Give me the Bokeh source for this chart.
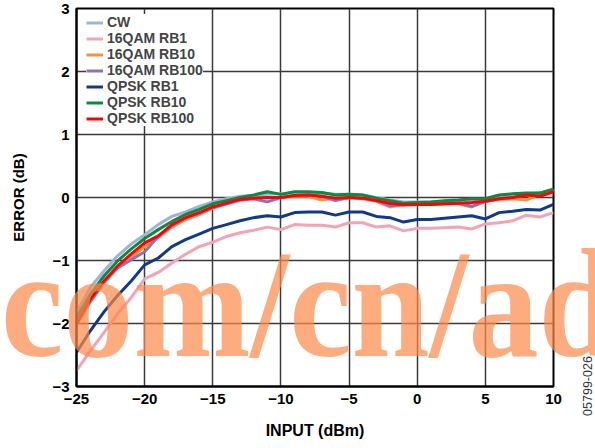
from bokeh.plotting import figure
from bokeh.layouts import column
from bokeh.models import Range1d, FixedTicker, Legend, LegendItem, Div
from bokeh.embed import file_html
from bokeh.resources import INLINE

# ---------------- data ----------------
input_dbm = list(range(-25, 11))

cw = [-1.83, -1.43, -1.17, -0.93, -0.74, -0.59, -0.43, -0.30, -0.23, -0.14,
      -0.07, -0.02, 0.02, 0.03, 0.05, 0.06, 0.08, 0.08, 0.07, 0.05,
      0.05, 0.04, 0.00, -0.04, -0.07, -0.07, -0.07, -0.06, -0.05, -0.03,
      -0.03, 0.02, 0.05, 0.06, 0.07, 0.11]

qam16_rb1 = [-2.75, -2.44, -2.15, -1.85, -1.59, -1.29, -1.19, -1.04, -0.90, -0.78,
             -0.71, -0.62, -0.56, -0.52, -0.47, -0.51, -0.43, -0.44, -0.44, -0.47,
             -0.40, -0.40, -0.47, -0.45, -0.53, -0.49, -0.49, -0.48, -0.47, -0.50,
             -0.42, -0.40, -0.37, -0.28, -0.31, -0.24]

qam16_rb10 = [-2.02, -1.66, -1.36, -1.12, -0.95, -0.78, -0.63, -0.47, -0.35, -0.27,
              -0.17, -0.10, -0.04, -0.02, 0.00, 0.00, 0.02, 0.02, -0.04, -0.01,
              0.00, -0.02, -0.06, -0.15, -0.11, -0.11, -0.11, -0.10, -0.10, -0.15,
              -0.06, -0.03, -0.02, -0.04, 0.05, 0.12]

qam16_rb100 = [-2.00, -1.65, -1.35, -1.12, -0.99, -0.86, -0.62, -0.45, -0.33, -0.25,
               -0.16, -0.10, -0.04, -0.02, -0.07, 0.00, 0.03, 0.04, 0.02, -0.05,
               0.00, -0.01, -0.05, -0.13, -0.11, -0.11, -0.10, -0.10, -0.09, -0.14,
               -0.06, -0.02, 0.00, 0.04, 0.07, 0.13]

qpsk_rb1 = [-2.46, -2.12, -1.82, -1.56, -1.33, -1.07, -0.96, -0.78, -0.67, -0.58,
            -0.49, -0.43, -0.37, -0.32, -0.29, -0.31, -0.24, -0.23, -0.23, -0.28,
            -0.23, -0.23, -0.30, -0.32, -0.39, -0.35, -0.35, -0.33, -0.31, -0.29,
            -0.34, -0.24, -0.22, -0.19, -0.20, -0.11]

qpsk_rb10 = [-1.91, -1.54, -1.25, -1.01, -0.82, -0.65, -0.51, -0.38, -0.27, -0.19,
             -0.10, -0.05, 0.00, 0.04, 0.09, 0.05, 0.09, 0.09, 0.08, 0.04,
             0.05, 0.04, -0.01, -0.05, -0.09, -0.08, -0.07, -0.05, -0.04, -0.02,
             -0.02, 0.04, 0.06, 0.07, 0.07, 0.13]

qpsk_rb100 = [-2.01, -1.62, -1.33, -1.09, -0.90, -0.72, -0.61, -0.43, -0.32, -0.24,
              -0.15, -0.09, -0.03, -0.01, 0.00, 0.00, 0.03, 0.04, 0.02, -0.01,
              0.00, -0.01, -0.05, -0.09, -0.12, -0.11, -0.11, -0.10, -0.09, -0.08,
              -0.06, -0.02, 0.00, 0.04, 0.02, 0.09]

series_names = ["CW", "16QAM RB1", "16QAM RB10", "16QAM RB100",
                "QPSK RB1", "QPSK RB10", "QPSK RB100"]
series_values = [cw, qam16_rb1, qam16_rb10, qam16_rb100, qpsk_rb1, qpsk_rb10, qpsk_rb100]
series_colors = ["#9fb3d4", "#f4a3b5", "#f7923a", "#8b73bb", "#12388a", "#0b8a45", "#ff0000"]

x_ticks = list(range(-25, 11, 5))
y_ticks = list(range(-3, 4))

watermark_text = "com/cn/ad"
figure_code = "05799-026"

W, H = 595, 448

# ---------------- main figure ----------------
p = figure(width=W, height=H, x_range=Range1d(-25, 10), y_range=Range1d(-3, 3),
           output_backend="svg", toolbar_location=None,
           min_border_left=76, min_border_right=42, min_border_top=8, min_border_bottom=62)

FONT = "Liberation Sans"
p.xaxis.ticker = FixedTicker(ticks=x_ticks)
p.yaxis.ticker = FixedTicker(ticks=y_ticks)
p.xaxis.major_label_overrides = {t: str(t).replace("-", "\u2212") for t in x_ticks}
p.yaxis.major_label_overrides = {t: str(t).replace("-", "\u2212") for t in y_ticks}
for ax in (p.xaxis[0], p.yaxis[0]):
    ax.major_label_text_font = FONT
    ax.major_label_text_font_style = "bold"
    ax.major_label_text_font_size = "15px"
    ax.major_label_text_color = "black"
    ax.axis_label_text_font = FONT
    ax.axis_label_text_font_style = "bold"
    ax.axis_label_text_color = "black"
    ax.major_tick_out = 0
    ax.major_tick_in = 0
    ax.minor_tick_out = 0
    ax.minor_tick_in = 0
    ax.axis_line_width = 2
    ax.axis_line_color = "black"
    ax.major_label_standoff = 7

p.xaxis.axis_label = "INPUT (dBm)"
p.yaxis.axis_label = "ERROR (dB)"
p.xaxis.axis_label_text_font_size = "16px"
p.yaxis.axis_label_text_font_size = "15px"
p.xaxis.axis_label_standoff = 15
p.yaxis.axis_label_standoff = 22

p.grid.grid_line_color = "#3a3a3a"
p.grid.grid_line_width = 1.5
p.outline_line_color = "black"
p.outline_line_width = 2
p.background_fill_color = "white"
p.border_fill_color = "white"

items = []
for name, vals, col in zip(series_names, series_values, series_colors):
    r = p.line(input_dbm, vals, line_color=col, line_width=3)
    items.append(LegendItem(label=name, renderers=[r]))

legend = Legend(items=items, location=(10, 260))
legend.background_fill_color = "white"
legend.background_fill_alpha = 1.0
legend.border_line_color = None
legend.label_text_font = FONT
legend.label_text_font_style = "bold"
legend.label_text_font_size = "14px"
legend.glyph_width = 17
legend.glyph_height = 15
legend.label_height = 15
legend.label_standoff = 4
legend.spacing = 0
legend.padding = 2
legend.margin = 0
p.add_layout(legend)

# ---------------- overlay: watermark and figure code (HTML text on top of the plot) ----------------
overlay_html = (
    f'<div style="position:absolute;left:0;top:0;width:{W}px;height:{H}px;'
    f'overflow:hidden;pointer-events:none;">'
    f'<div style="position:absolute;left:-4px;top:227px;white-space:nowrap;'
    f"font-family:'Liberation Serif';font-weight:bold;font-size:155px;line-height:1;"
    f'color:#fc8a4a;opacity:0.7;transform:scaleX(0.905);transform-origin:0 0;">'
    f'{watermark_text}</div>'
    f'<div style="position:absolute;left:583px;top:386px;white-space:nowrap;'
    f"font-family:'Liberation Sans';font-size:12.5px;line-height:1;color:#333;"
    f'transform:translate(-50%,-50%) rotate(-90deg);">{figure_code}</div>'
    f'</div>'
)
overlay = Div(text=overlay_html, width=W, height=H,
              styles={"margin-top": f"-{H}px", "position": "relative",
                      "pointer-events": "none"})

layout = column(p, overlay)
open("out.html", "w").write(file_html(layout, INLINE))
